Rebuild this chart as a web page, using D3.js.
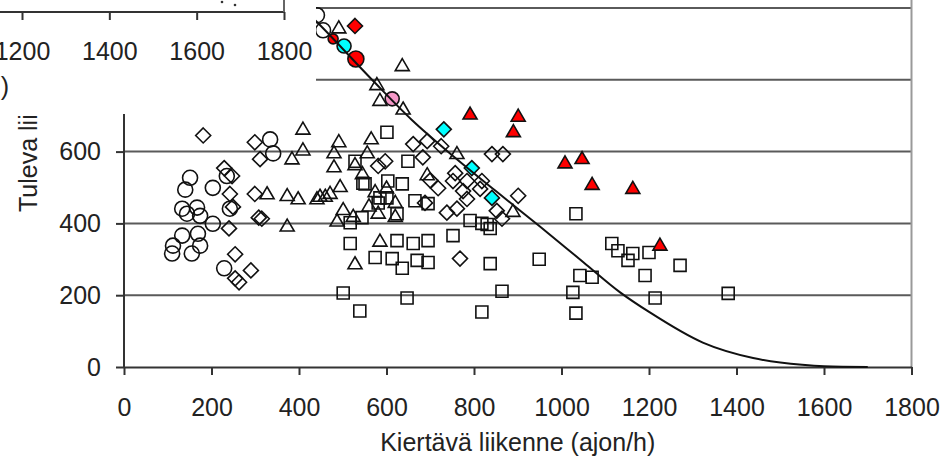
<!DOCTYPE html>
<html>
<head>
<meta charset="utf-8">
<script src="https://cdnjs.cloudflare.com/ajax/libs/d3/7.8.5/d3.min.js"></script>
<style>
  body { margin: 0; background: #fff; }
  svg text { font-family: "Liberation Sans", Arial, sans-serif; fill: #222; }
</style>
</head>
<body>
<div id="chart"></div>
<script>
// axis ticks
var xTicks = [0, 200, 400, 600, 800, 1000, 1200, 1400, 1600, 1800];
var yTicks = [0, 200, 400, 600, 800, 1000];
var xTitle = "Kiertävä liikenne (ajon/h)";
var yTitle = "Tuleva liikenne (ajon/h)";

// open circles
var circles = [[441,980],[455,938],[334,634],[341,595],[151,527],[140,494],[203,499],[133,441],
  [167,444],[144,427],[203,399],[242,441],[235,532],[112,338],[133,366],[169,371],[155,316],
  [174,338],[110,316],[229,275],[174,421]];

// open diamonds
var diamonds = [[181,645],[299,626],[311,579],[299,482],[315,413],[308,416],[240,386],[254,314],
  [290,269],[263,236],[254,247],[229,554],[247,532],[242,482],[249,446],
  [661,621],[693,629],[725,615],[683,584],[597,573],[581,560],[718,498],[752,518],[757,540],
  [818,518],[784,468],[901,477],[761,441],[864,413],[738,430],[688,457],[775,490],[768,302],
  [841,593],[866,593],[784,518],[814,496],[852,435],[700,520]];

// open triangles
var triangles = [[491,946],[578,788],[585,744],[636,841],[638,720],
  [409,664],[409,606],[384,581],[327,484],[373,479],[398,470],[441,470],[373,394],
  [491,629],[480,598],[480,559],[565,637],[556,598],[528,565],[494,504],[471,485],[448,477],
  [460,477],[501,440],[524,421],[581,430],[620,421],[761,596],[693,537],[574,490],[487,408],
  [585,352],[528,289],[889,435],[545,540],[600,500],[620,460],[560,450]];

// open squares
var squares = [[601,654],[528,573],[649,573],[546,512],[603,518],[636,510],[665,463],[695,455],
  [585,471],[624,427],[517,402],[517,344],[624,352],[661,344],[695,352],[574,305],[613,302],
  [636,275],[670,297],[695,291],[752,366],[837,288],[949,300],[1033,427],[1115,344],[1129,324],
  [1152,297],[1163,316],[1200,319],[1271,283],[1191,255],[1214,192],[1381,205],[1026,208],
  [1033,150],[1042,255],[1070,250],[864,211],[818,153],[647,192],[501,206],[539,156],[818,400],
  [551,510],[601,471],[581,457],[544,416],[830,397],[837,386],[791,408]];

// highlighted points
var redTriangles = [[791,706],[901,700],[890,657],[1008,570],[1047,582],[1070,510],[1163,499],[1225,341]];
var redDiamonds = [[528,950]];
var redCircles = [[478,914,5],[530,858,8]];
var cyanCircles = [[503,894]];
var pinkCircles = [[613,747]];
var cyanDiamonds = [[731,662],[795,554],[841,471]];

// capacity curve
var curve = [[400,1010],[441,961],[567,800],[658,688],[750,590],[850,490],[950,392],[1050,292],
  [1134,208],[1202,152],[1323,68],[1438,25],[1550,6],[1600,2],[1700,0]];

var width = 950, height = 460;
var fontSize = "25px";
var svg = d3.select("#chart").append("svg")
    .attr("width", width)
    .attr("height", height);

var x = d3.scaleLinear().domain([0, 1800]).range([124, 911.5]);
var y = d3.scaleLinear().domain([0, 1000]).range([367, 8]);

// gridlines
svg.append("g").selectAll("line")
    .data(yTicks.filter(function(d) { return d > 0; }))
    .enter().append("line")
    .attr("x1", x(0)).attr("x2", x(1800))
    .attr("y1", function(d) { return y(d); })
    .attr("y2", function(d) { return y(d); })
    .attr("stroke", "#5a5a5a")
    .attr("stroke-width", 2);

// right frame
svg.append("line")
    .attr("x1", x(1800)).attr("x2", x(1800))
    .attr("y1", 0).attr("y2", y(0))
    .attr("stroke", "#999")
    .attr("stroke-width", 2);

// axes
var xAxis = svg.append("g")
    .attr("transform", "translate(0," + y(0) + ")")
    .call(d3.axisBottom(x).tickValues(xTicks).tickFormat(d3.format("d"))
        .tickSize(8).tickPadding(23).tickSizeOuter(0));
var yAxis = svg.append("g")
    .attr("transform", "translate(" + x(0) + ",0)")
    .call(d3.axisLeft(y).tickValues(yTicks).tickFormat(d3.format("d"))
        .tickSize(8).tickPadding(15).tickSizeOuter(0));

[xAxis, yAxis].forEach(function(a) {
    a.select(".domain").attr("stroke", "#333").attr("stroke-width", 2);
    a.selectAll(".tick line").attr("stroke", "#333").attr("stroke-width", 2);
    a.selectAll(".tick text")
        .style("font-family", "'Liberation Sans', Arial, sans-serif")
        .style("font-size", fontSize)
        .attr("fill", "#222");
});
yAxis.select(".domain").attr("d", "M0," + y(0) + "V0");

svg.append("text")
    .attr("x", (x(0) + x(1800)) / 2)
    .attr("y", 451)
    .attr("text-anchor", "middle")
    .style("font-size", fontSize)
    .text(xTitle);

svg.append("text")
    .attr("transform", "translate(37,212) rotate(-90)")
    .attr("text-anchor", "start")
    .style("font-size", fontSize)
    .text(yTitle);

// marker shapes
function shapePath(type, r) {
    if (type == "diamond") return "M0," + (-r) + "L" + r + ",0L0," + r + "L" + (-r) + ",0Z";
    if (type == "triangle") return "M0," + (-r) + "L" + (r + 0.5) + "," + (r - 1) + "L" + (-r - 0.5) + "," + (r - 1) + "Z";
    if (type == "square") return "M" + (-r) + "," + (-r) + "h" + (2 * r) + "v" + (2 * r) + "h" + (-2 * r) + "Z";
    return d3.symbol().type(d3.symbolCircle).size(Math.PI * r * r)();
}

function drawSeries(data, type, r, fill) {
    svg.append("g").selectAll("path")
        .data(data)
        .enter().append("path")
        .attr("transform", function(d) { return "translate(" + x(d[0]) + "," + y(d[1]) + ")"; })
        .attr("d", function(d) { return shapePath(type, d[2] || r); })
        .attr("fill", fill)
        .attr("stroke", "#111")
        .attr("stroke-width", 1.6);
}

drawSeries(circles, "circle", 7.5, "none");
drawSeries(diamonds, "diamond", 7.5, "none");
drawSeries(triangles, "triangle", 6.5, "none");
drawSeries(squares, "square", 6, "none");
drawSeries(redTriangles, "triangle", 6.5, "#ff0000");
drawSeries(redDiamonds, "diamond", 7.5, "#ff0000");
drawSeries(redCircles, "circle", 7, "#ff0000");
drawSeries(cyanCircles, "circle", 7, "#00ffff");
drawSeries(pinkCircles, "circle", 7, "#f598c8");
drawSeries(cyanDiamonds, "diamond", 7.5, "#00ffff");

svg.append("path")
    .datum(curve)
    .attr("fill", "none")
    .attr("stroke", "#111")
    .attr("stroke-width", 2)
    .attr("d", d3.line()
        .x(function(d) { return x(d[0]); })
        .y(function(d) { return y(d[1]); })
        .curve(d3.curveMonotoneX));

// pasted piece of the previous figure over the top-left corner
var inset = svg.append("g");
inset.append("rect")
    .attr("x", 0).attr("y", 0)
    .attr("width", 316).attr("height", 114)
    .attr("fill", "#fff");

var x2 = d3.scaleLinear().domain([1200, 1800]).range([22, 284]);
var insetAxis = inset.append("g")
    .attr("transform", "translate(0,12)")
    .call(d3.axisBottom(x2).tickValues([1200, 1400, 1600, 1800]).tickFormat(d3.format("d"))
        .tickSize(8).tickPadding(22).tickSizeOuter(0));
insetAxis.select(".domain").attr("d", "M0,0H" + x2(1800)).attr("stroke", "#333").attr("stroke-width", 2);
insetAxis.selectAll(".tick line").attr("stroke", "#333").attr("stroke-width", 2);
insetAxis.selectAll(".tick text")
    .style("font-family", "'Liberation Sans', Arial, sans-serif")
    .style("font-size", fontSize)
    .attr("fill", "#222");

inset.append("line")
    .attr("x1", x2(1800)).attr("x2", x2(1800))
    .attr("y1", 0).attr("y2", 12)
    .attr("stroke", "#666")
    .attr("stroke-width", 2);

inset.append("text")
    .attr("x", 9).attr("y", 95)
    .attr("text-anchor", "end")
    .style("font-size", fontSize)
    .text("(ajon/h)");

inset.selectAll("circle.dot")
    .data([[222, 2], [235, 5]])
    .enter().append("circle")
    .attr("cx", function(d) { return d[0]; })
    .attr("cy", function(d) { return d[1]; })
    .attr("r", 1.3)
    .attr("fill", "#333");
</script>
</body>
</html>
